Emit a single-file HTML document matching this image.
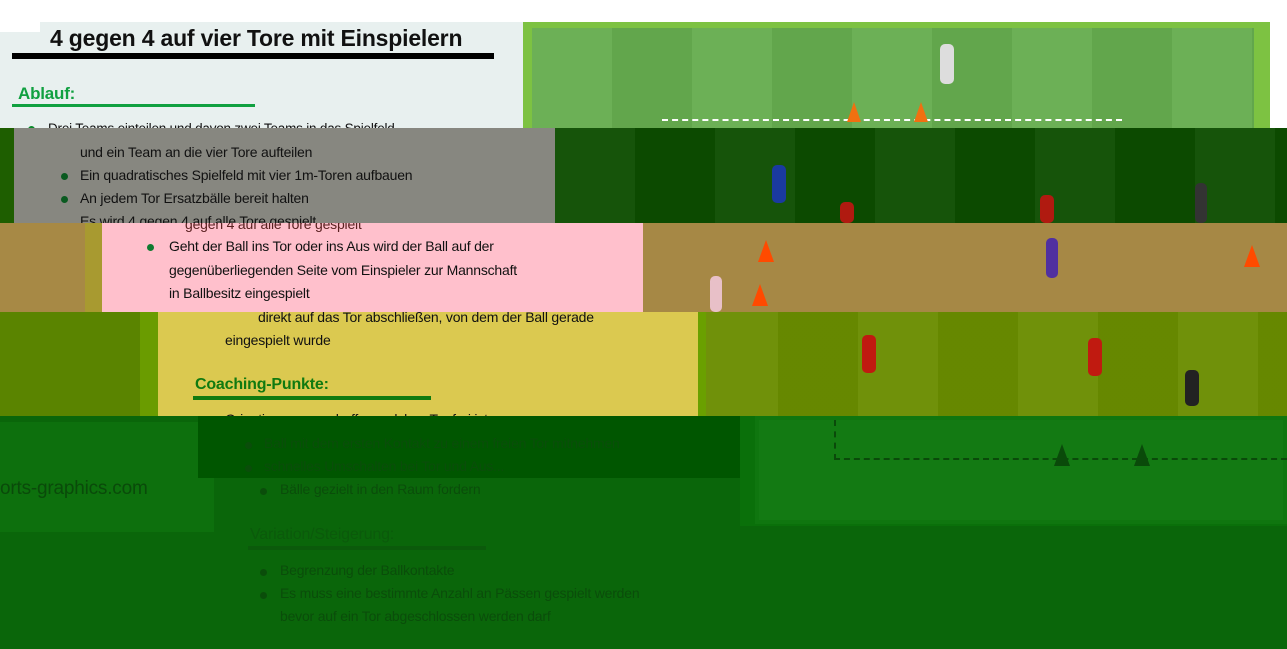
<!DOCTYPE html>
<html><head><meta charset="utf-8"><style>
*{margin:0;padding:0;box-sizing:border-box}
body{width:1287px;height:649px;position:relative;overflow:hidden;background:#fff;font-family:"Liberation Sans",sans-serif}
.b{position:absolute}
.t{position:absolute;font-size:14px;white-space:nowrap;color:#111;letter-spacing:-0.2px}
.d{position:absolute;width:7px;height:7px;border-radius:50%;background:#0a8a2a}
.stripes{background:repeating-linear-gradient(90deg,rgba(255,255,255,.04) 0 80px,rgba(0,0,0,.04) 80px 160px)}
</style></head><body>
<div class="b" style="left:0;top:32px;width:523px;height:96px;background:#e8f0ef"></div>
<div class="b" style="left:40px;top:22px;width:483px;height:12px;background:#e8f0ef"></div>
<div class="b" style="left:523px;top:22px;width:747px;height:106px;background:#7dc242"></div>
<div class="b stripes" style="left:532px;top:28px;width:722px;height:100px;background-color:#66ad4f"></div>
<div class="b" style="left:662px;top:119px;width:460px;border-top:2px dashed #fff"></div>
<div class="b" style="left:847px;top:102px;width:0;height:0;border-left:7px solid transparent;border-right:7px solid transparent;border-bottom:20px solid #f07010"></div>
<div class="b" style="left:914px;top:102px;width:0;height:0;border-left:7px solid transparent;border-right:7px solid transparent;border-bottom:20px solid #f07010"></div>
<div class="b" style="left:940px;top:44px;width:14px;height:40px;background:#ddd;border-radius:5px"></div>
<div class="t" style="left:50px;top:25px;font-size:23px;font-weight:bold;color:#111">4 gegen 4 auf vier Tore mit Einspielern</div>
<div class="b" style="left:12px;top:53px;width:482px;height:6px;background:#000"></div>
<div class="t" style="left:18px;top:84px;font-size:17px;font-weight:bold;color:#10a040">Ablauf:</div>
<div class="b" style="left:12px;top:104px;width:243px;height:3px;background:#10a040"></div>
<div class="d" style="left:28px;top:126px"></div>
<div class="t" style="left:48px;top:121px;font-size:13.5px">Drei Teams einteilen und davon zwei Teams in das Spielfeld</div>
<div class="b" style="left:0;top:128px;width:14px;height:95px;background:#1e5e00"></div>
<div class="b" style="left:14px;top:128px;width:541px;height:95px;background:#878780"></div>
<div class="b stripes" style="left:555px;top:128px;width:732px;height:95px;background-color:#0d4d00"></div>
<div class="t" style="left:80px;top:144px">und ein Team an die vier Tore aufteilen</div>
<div class="d" style="left:61px;top:173px;background:#0a5a20"></div>
<div class="t" style="left:80px;top:167px">Ein quadratisches Spielfeld mit vier 1m-Toren aufbauen</div>
<div class="d" style="left:61px;top:196px;background:#0a5a20"></div>
<div class="t" style="left:80px;top:190px">An jedem Tor Ersatzbälle bereit halten</div>
<div class="t" style="left:80px;top:213px;height:10px;overflow:hidden">Es wird 4 gegen 4 auf alle Tore gespielt</div>
<div class="b" style="left:772px;top:165px;width:14px;height:38px;background:#1a3aa0;border-radius:5px"></div>
<div class="b" style="left:1040px;top:195px;width:14px;height:28px;background:#b01a10;border-radius:5px"></div>
<div class="b" style="left:840px;top:202px;width:14px;height:21px;background:#b01a10;border-radius:5px"></div>
<div class="b" style="left:1195px;top:183px;width:12px;height:40px;background:#333;border-radius:5px"></div>
<div class="b" style="left:0;top:223px;width:85px;height:89px;background:#a78945"></div>
<div class="b" style="left:85px;top:223px;width:17px;height:89px;background:#a89a30"></div>
<div class="b" style="left:102px;top:223px;width:541px;height:89px;background:#ffc0cc"></div>
<div class="b" style="left:643px;top:223px;width:644px;height:89px;background:#a68845"></div>
<div class="t" style="left:185px;top:216px;color:#5a2020;clip-path:inset(7px 0 0 0)">gegen 4 auf alle Tore gespielt</div>
<div class="d" style="left:147px;top:244px;background:#107a30"></div>
<div class="t" style="left:169px;top:238px">Geht der Ball ins Tor oder ins Aus wird der Ball auf der</div>
<div class="t" style="left:169px;top:262px">gegenüberliegenden Seite vom Einspieler zur Mannschaft</div>
<div class="t" style="left:169px;top:285px">in Ballbesitz eingespielt</div>
<div class="b" style="left:758px;top:240px;width:0;height:0;border-left:8px solid transparent;border-right:8px solid transparent;border-bottom:22px solid #ff4a00"></div>
<div class="b" style="left:752px;top:284px;width:0;height:0;border-left:8px solid transparent;border-right:8px solid transparent;border-bottom:22px solid #ff4a00"></div>
<div class="b" style="left:1244px;top:245px;width:0;height:0;border-left:8px solid transparent;border-right:8px solid transparent;border-bottom:22px solid #ff4a00"></div>
<div class="b" style="left:1046px;top:238px;width:12px;height:40px;background:#5030a0;border-radius:5px"></div>
<div class="b" style="left:710px;top:276px;width:12px;height:36px;background:#e8c0c8;border-radius:5px"></div>
<div class="b" style="left:0;top:312px;width:158px;height:104px;background:#5a8400"></div>
<div class="b" style="left:140px;top:312px;width:18px;height:104px;background:#6a9c00"></div>
<div class="b" style="left:158px;top:312px;width:540px;height:104px;background:#dbc950"></div>
<div class="b stripes" style="left:698px;top:312px;width:589px;height:104px;background-color:#6a8d00"></div>
<div class="b" style="left:698px;top:312px;width:8px;height:104px;background:#6aa000"></div>
<div class="t" style="left:258px;top:309px">direkt auf das Tor abschließen, von dem der Ball gerade</div>
<div class="t" style="left:225px;top:332px">eingespielt wurde</div>
<div class="t" style="left:195px;top:376px;font-size:16px;font-weight:bold;color:#107a10">Coaching-Punkte:</div>
<div class="b" style="left:193px;top:396px;width:238px;height:4px;background:#107a10"></div>
<div class="t" style="left:225px;top:411px;height:5px;overflow:hidden">Orientierung verschaffen welches Tor frei ist</div>
<div class="b" style="left:862px;top:335px;width:14px;height:38px;background:#c01a10;border-radius:5px"></div>
<div class="b" style="left:1088px;top:338px;width:14px;height:38px;background:#c01a10;border-radius:5px"></div>
<div class="b" style="left:1185px;top:370px;width:14px;height:36px;background:#222;border-radius:5px"></div>
<div class="b" style="left:0;top:416px;width:1287px;height:233px;background:#0a660a"></div>
<div class="b" style="left:0;top:422px;width:214px;height:110px;background:#0d700d"></div>
<div class="b" style="left:198px;top:416px;width:542px;height:62px;background:#005600"></div>
<div class="b" style="left:740px;top:416px;width:547px;height:110px;background:#0a700a"></div>
<div class="b" style="left:755px;top:416px;width:532px;height:108px;background:#137a13;border:4px solid #0f760f"></div>
<div class="b" style="left:834px;top:420px;width:453px;height:40px;border-left:2px dashed #0a4a0a;border-bottom:2px dashed #0a4a0a"></div>
<div class="b" style="left:1054px;top:444px;width:0;height:0;border-left:8px solid transparent;border-right:8px solid transparent;border-bottom:22px solid #0a4a0a"></div>
<div class="b" style="left:1134px;top:444px;width:0;height:0;border-left:8px solid transparent;border-right:8px solid transparent;border-bottom:22px solid #0a4a0a"></div>
<div class="d" style="left:245px;top:442px;background:#0a4d0a"></div>
<div class="t" style="left:264px;top:435px;color:#0a4d0a">Ball mit dem ersten Kontakt zu einem freien Tor mitnehmen</div>
<div class="d" style="left:245px;top:465px;background:#0a4d0a"></div>
<div class="t" style="left:264px;top:458px;color:#0a4d0a">schnelles Umschalten bei Tor und Aus...</div>
<div class="t" style="left:0;top:478px;font-size:19px;color:#0a4a0a">orts-graphics.com</div>
<div class="d" style="left:260px;top:488px;background:#0a4d0a"></div>
<div class="t" style="left:280px;top:481px;color:#0a4d0a">Bälle gezielt in den Raum fordern</div>
<div class="t" style="left:250px;top:526px;font-size:16px;color:#0b5a0b">Variation/Steigerung:</div>
<div class="b" style="left:248px;top:546px;width:238px;height:4px;background:#0b5a0b"></div>
<div class="d" style="left:260px;top:569px;background:#0a4d0a"></div>
<div class="t" style="left:280px;top:562px;color:#0a4d0a">Begrenzung der Ballkontakte</div>
<div class="d" style="left:260px;top:592px;background:#0a4d0a"></div>
<div class="t" style="left:280px;top:585px;color:#0a4d0a">Es muss eine bestimmte Anzahl an Pässen gespielt werden</div>
<div class="t" style="left:280px;top:608px;color:#0a4d0a">bevor auf ein Tor abgeschlossen werden darf</div>
<div class="b" style="left:1270px;top:22px;width:17px;height:106px;background:#fff"></div>
</body></html>
